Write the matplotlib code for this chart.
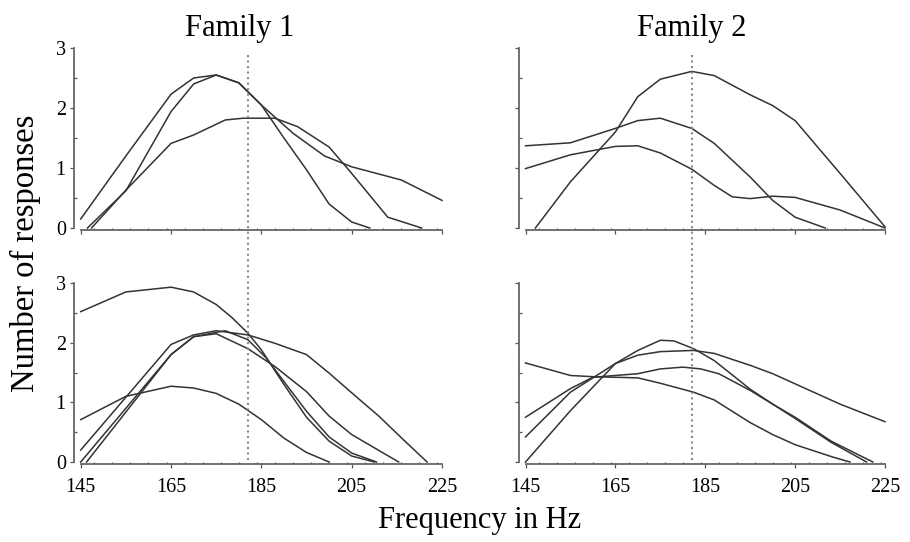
import matplotlib
matplotlib.use('Agg')
import matplotlib.pyplot as plt
from matplotlib.lines import Line2D
from matplotlib.ticker import MultipleLocator
import matplotlib.transforms as mtransforms

plt.rcParams['font.family'] = ['Liberation Serif', 'DejaVu Serif']

# Family 1, top panel
f1a_x = [145, 155, 165, 170, 175, 180, 185, 192, 199, 205, 216, 225]
f1a_y = [0.15, 1.2, 2.23, 2.5, 2.55, 2.42, 2.05, 1.58, 1.2, 1.02, 0.8, 0.46]
f1b_x = [146.5, 155, 165, 170, 175, 180, 185, 190, 195, 200, 205, 209]
f1b_y = [0, 0.62, 1.94, 2.4, 2.55, 2.42, 2.05, 1.5, 0.97, 0.4, 0.1, 0]
f1c_x = [147.4, 155, 165, 170, 177, 181, 188, 193, 200, 205, 213, 220.5]
f1c_y = [0, 0.63, 1.41, 1.55, 1.8, 1.83, 1.83, 1.69, 1.35, 0.91, 0.18, 0]

# Family 2, top panel
f2a_x = [147.2, 155, 165, 170, 175, 182, 187, 195, 200, 205, 215, 225]
f2a_y = [0, 0.77, 1.6, 2.19, 2.48, 2.61, 2.54, 2.22, 2.04, 1.79, 0.91, 0.02]
f2b_x = [145, 155, 165, 170, 175, 182, 187, 195, 200, 205, 211.7]
f2b_y = [1.37, 1.42, 1.66, 1.79, 1.83, 1.66, 1.41, 0.85, 0.46, 0.18, 0]
f2c_x = [145, 155, 165, 170, 175, 182, 187, 191, 195, 200, 205, 215, 225]
f2c_y = [0.99, 1.22, 1.36, 1.37, 1.25, 0.98, 0.71, 0.52, 0.49, 0.53, 0.51, 0.3, 0]

# Family 1, bottom panel
f1d_x = [145, 155, 165, 170, 175, 178.5, 182, 185, 190, 195, 200, 205, 210]
f1d_y = [2.52, 2.85, 2.93, 2.85, 2.64, 2.42, 2.16, 1.88, 1.3, 0.75, 0.35, 0.1, 0]
f1e_x = [145, 155, 165, 170, 175, 180, 185, 190, 195, 200]
f1e_y = [0.71, 1.1, 1.27, 1.24, 1.15, 0.97, 0.71, 0.4, 0.16, 0]
f1f_x = [145, 165, 170, 175, 182, 188, 195, 200, 205, 211, 216.5, 221.7]
f1f_y = [0.2, 1.97, 2.13, 2.2, 2.13, 1.99, 1.8, 1.49, 1.16, 0.77, 0.37, 0]
f1g_x = [145, 165, 170, 175, 182, 188, 195, 200, 205, 215.4]
f1g_y = [0, 1.8, 2.1, 2.15, 1.9, 1.6, 1.18, 0.77, 0.46, 0]
f1h_x = [146.3, 165, 170, 177, 182, 186, 190, 195, 200, 205, 210.5]
f1h_y = [0, 1.8, 2.1, 2.2, 2.05, 1.75, 1.35, 0.85, 0.42, 0.15, 0]

# Family 2, bottom panel
f2d_x = [145, 155, 160, 165, 170, 175, 182.4, 187, 195, 200, 205, 213.5, 217.2]
f2d_y = [1.66, 1.45, 1.43, 1.42, 1.41, 1.32, 1.17, 1.04, 0.66, 0.46, 0.29, 0.08, 0]
f2e_x = [145, 155, 165, 170, 175, 178, 182.4, 187, 195, 200, 205, 213, 220.9]
f2e_y = [0, 0.86, 1.65, 1.87, 2.04, 2.03, 1.9, 1.7, 1.22, 0.97, 0.73, 0.33, 0]
f2f_x = [145, 155, 165, 170, 175, 182.4, 187, 195, 200, 205, 215, 225]
f2f_y = [0.42, 1.17, 1.65, 1.79, 1.85, 1.87, 1.82, 1.62, 1.48, 1.31, 0.97, 0.675]
f2g_x = [145, 155, 160, 165, 170, 175, 180, 184, 188, 195, 200, 205, 213, 222.3]
f2g_y = [0.75, 1.23, 1.42, 1.45, 1.48, 1.56, 1.59, 1.56, 1.48, 1.2, 0.97, 0.75, 0.35, 0]

panels = [
    [(f1a_x, f1a_y), (f1b_x, f1b_y), (f1c_x, f1c_y)],
    [(f2a_x, f2a_y), (f2b_x, f2b_y), (f2c_x, f2c_y)],
    [(f1d_x, f1d_y), (f1e_x, f1e_y), (f1f_x, f1f_y), (f1g_x, f1g_y), (f1h_x, f1h_y)],
    [(f2d_x, f2d_y), (f2e_x, f2e_y), (f2f_x, f2f_y), (f2g_x, f2g_y)],
]
stimulus = 182
x_ticks = [145, 165, 185, 205, 225]
y_ticks = [0, 1, 2, 3]

W, H = 910, 542
fig = plt.figure(figsize=(W / 100, H / 100), dpi=100)

# axes rectangles in pixels: left, top of data area, right, bottom
boxes = [(80.7, 48, 442, 228), (525.5, 48, 885, 228),
         (80.7, 283, 442, 462), (525.5, 283, 885, 462)]

axes = []
for i, (l, t, r, b) in enumerate(boxes):
    ax = fig.add_axes([l / W, 1 - b / H, (r - l) / W, (b - t) / H])
    for xs, ys in panels[i]:
        ax.plot(xs, ys, '-', color='#333333', lw=1.1, clip_on=False)
    ax.set_xlim(145, 225)
    ax.set_ylim(0, 3)
    for s in ['top', 'right']:
        ax.spines[s].set_visible(False)
    ax.spines['left'].set_position(('outward', 4.7))
    ax.spines['bottom'].set_position(('outward', 1.2))
    ax.spines['left'].set_bounds(0, 3)
    ax.spines['bottom'].set_bounds(145, 225)
    for s in ['left', 'bottom']:
        ax.spines[s].set_color('#666666')
        ax.spines[s].set_linewidth(1.3)
    ax.set_xticks(x_ticks)
    ax.set_yticks(y_ticks)
    ax.xaxis.set_minor_locator(MultipleLocator(4))
    ax.yaxis.set_minor_locator(MultipleLocator(0.5))
    ax.tick_params(which='major', direction='out', length=3, width=0.9,
                   color='#555555', labelsize=14.5)
    ax.tick_params(which='minor', direction='in', length=1.8, width=0.9,
                   color='#555555')
    ax.tick_params(axis='y', which='major', pad=3)
    ax.tick_params(axis='x', which='major', pad=7)
    if i < 2:
        ax.tick_params(axis='x', labelbottom=False)
    if i % 2 == 1:
        ax.tick_params(axis='y', labelleft=False)
    axes.append(ax)

# dotted stimulus line running through both panels of each column
for ax in axes[:2]:
    trans = mtransforms.blended_transform_factory(ax.transData, fig.transFigure)
    fig.add_artist(Line2D([stimulus, stimulus], [1 - 55 / H, 1 - 463 / H],
                          transform=trans, color='#8a8a8a', ls=':', lw=1.5))

fig.text(240 / W, 1 - 36 / H, 'Family 1', ha='center', va='baseline', fontsize=22)
fig.text(692 / W, 1 - 36 / H, 'Family 2', ha='center', va='baseline', fontsize=22)
fig.text(25 / W, 1 - 253 / H, 'Number of responses', rotation=90,
         ha='center', va='center', fontsize=23.5)
fig.text(480 / W, 1 - 528 / H, 'Frequency in Hz', ha='center', va='baseline',
         fontsize=22)

plt.savefig('out.png', dpi=100)
